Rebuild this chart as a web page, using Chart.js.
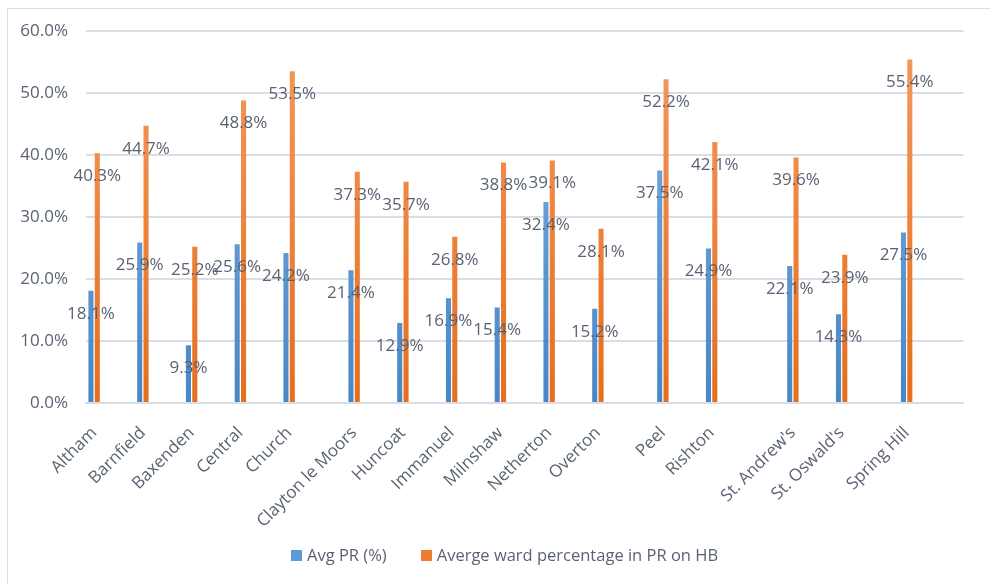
<!DOCTYPE html>
<html>
<head>
<meta charset="utf-8">
<script src="https://cdn.jsdelivr.net/npm/chart.js@4.4.1/dist/chart.umd.min.js"></script>
<style>
  html, body { margin: 0; padding: 0; background: #ffffff; }
  #wrap { position: relative; width: 990px; height: 584px; overflow: hidden;
          font-family: 'Open Sans', 'Noto Sans', sans-serif; }
  #frame { position: absolute; left: 7px; top: 8px; width: 1000px; height: 600px;
           border-top: 1px solid #d9dde2; border-left: 1px solid #d9dde2; }
  #chart { position: absolute; left: 0; top: 0; }
  #legend { position: absolute; left: 291px; top: 544px; display: flex; align-items: center;
            font-size: 16.5px; color: #5a6373; white-space: nowrap; line-height: 22px; }
  #legend .item { display: flex; align-items: center; margin-right: 34px; }
  #legend .item:last-child { margin-right: 0; }
  #legend .box { width: 11px; height: 11px; margin-right: 5px; }
</style>
</head>
<body>
<div id="wrap">
  <div id="frame"></div>
  <canvas id="chart" width="990" height="584"></canvas>
  <div id="legend"></div>
</div>
<script>
// Wards and their two percentage series
const wards = ['Altham', 'Barnfield', 'Baxenden', 'Central', 'Church', 'Clayton le Moors',
  'Huncoat', 'Immanuel', 'Milnshaw', 'Netherton', 'Overton', 'Peel', 'Rishton',
  "St. Andrew's", "St. Oswald's", 'Spring Hill'];
const avgPR = [18.1, 25.9, 9.3, 25.6, 24.2, 21.4, 12.9, 16.9, 15.4, 32.4, 15.2, 37.5, 24.9, 22.1, 14.3, 27.5];
const wardPctHB = [40.3, 44.7, 25.2, 48.8, 53.5, 37.3, 35.7, 26.8, 38.8, 39.1, 28.1, 52.2, 42.1, 39.6, 23.9, 55.4];
const seriesNames = ['Avg PR (%)', 'Averge ward percentage in PR on HB'];
const seriesColors = ['#5b9bd5', '#ed7d31'];
const yTicks = [0, 10, 20, 30, 40, 50, 60];

// Axis layout: each ward sits three slots apart, with a few extra blank slots between groups
const gapAfter = [0, 0, 0, 0, 1, 0, 0, 0, 0, 0, 1, 0, 2, 0, 1, 1];

const labels = [], blue = [], orange = [];
wards.forEach((w, i) => {
  labels.push(w); blue.push(avgPR[i]); orange.push(wardPctHB[i]);
  for (let k = 0; k < 2 + gapAfter[i]; k++) { labels.push(''); blue.push(null); orange.push(null); }
});

const FONT = "'Open Sans', 'Noto Sans', sans-serif";
const TEXT = '#5a6373';
const GRID = '#dadee4';

function grad(ctx, top, bottom, solid) {
  const area = ctx.chart.chartArea;
  if (!area) return solid;
  const g = ctx.chart.ctx.createLinearGradient(0, area.top, 0, area.bottom);
  g.addColorStop(0, top);
  g.addColorStop(1, bottom);
  return g;
}

// Value labels drawn just inside the top of each bar
const valueLabels = {
  id: 'valueLabels',
  afterDatasetsDraw(chart) {
    const c = chart.ctx;
    c.save();
    c.font = '17px ' + FONT;
    c.fillStyle = TEXT;
    c.textAlign = 'center';
    c.textBaseline = 'middle';
    chart.data.datasets.forEach((ds, di) => {
      const meta = chart.getDatasetMeta(di);
      meta.data.forEach((bar, i) => {
        const v = ds.data[i];
        if (v === null || v === undefined) return;
        c.fillText(v.toFixed(1) + '%', bar.x, bar.y + 23);
      });
    });
    c.restore();
  }
};

// HTML legend built from the chart's datasets
const htmlLegend = {
  id: 'htmlLegend',
  afterUpdate(chart) {
    const el = document.getElementById('legend');
    el.innerHTML = '';
    chart.data.datasets.forEach((ds, i) => {
      const item = document.createElement('div');
      item.className = 'item';
      const box = document.createElement('span');
      box.className = 'box';
      box.style.background = seriesColors[i];
      const txt = document.createElement('span');
      txt.textContent = ds.label;
      item.appendChild(box);
      item.appendChild(txt);
      el.appendChild(item);
    });
  }
};

new Chart(document.getElementById('chart'), {
  type: 'bar',
  data: {
    labels: labels,
    datasets: [
      {
        label: seriesNames[0],
        data: blue,
        backgroundColor: ctx => grad(ctx, '#7fb3e3', '#4886c6', seriesColors[0]),
        barPercentage: 0.8,
        categoryPercentage: 0.78
      },
      {
        label: seriesNames[1],
        data: orange,
        backgroundColor: ctx => grad(ctx, '#f59a60', '#e66e1c', seriesColors[1]),
        barPercentage: 0.8,
        categoryPercentage: 0.78
      }
    ]
  },
  options: {
    responsive: false,
    animation: false,
    layout: { padding: { top: 31, right: 20, bottom: 54, left: 0 } },
    plugins: {
      legend: { display: false },
      tooltip: { enabled: false }
    },
    scales: {
      x: {
        offset: true,
        grid: { display: false, drawTicks: false },
        border: { display: true, color: GRID, width: 2 },
        ticks: {
          autoSkip: false,
          maxRotation: 45,
          minRotation: 45,
          padding: 20,
          color: TEXT,
          font: { family: FONT, size: 17 }
        },
        afterFit(scale) { scale.height = 127; }
      },
      y: {
        min: 0,
        max: 60,
        afterBuildTicks(scale) { scale.ticks = yTicks.map(v => ({ value: v })); },
        grid: { color: GRID, lineWidth: 2, drawTicks: false },
        border: { display: false },
        ticks: {
          padding: 18,
          color: TEXT,
          font: { family: FONT, size: 17 },
          callback: v => v.toFixed(1) + '%'
        },
        afterFit(scale) { scale.width = 86; }
      }
    }
  },
  plugins: [valueLabels, htmlLegend]
});
</script>
</body>
</html>
